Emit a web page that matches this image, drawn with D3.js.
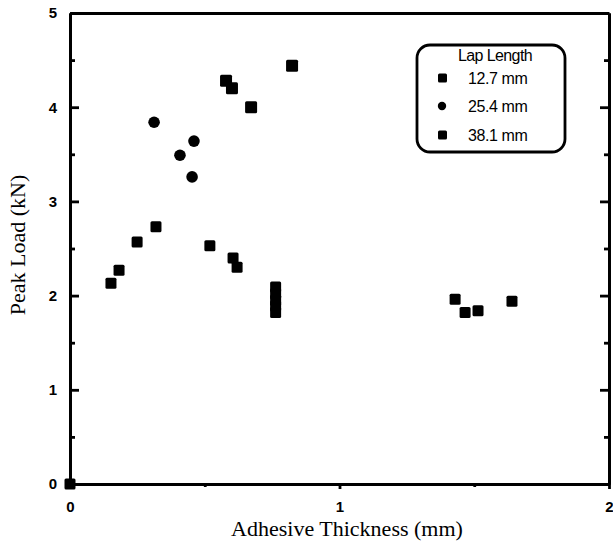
<!DOCTYPE html>
<html lang="en">
<head>
<meta charset="UTF-8">
<title>Peak Load vs Adhesive Thickness</title>
<script src="https://d3js.org/d3.v7.min.js"></script>
<style>
body { margin: 0; background: #fff; }
</style>
</head>
<body>
<svg width="613" height="546"></svg>
<script>
// data
var seriesNames = ["12.7 mm", "25.4 mm", "38.1 mm"]
var lap127x = [0, 0.152, 0.182, 0.249, 0.319, 0.519, 0.605, 0.62, 0.763, 0.763, 0.763, 0.763, 0.763, 1.429, 1.466, 1.514, 1.64]
var lap127y = [0, 2.13, 2.27, 2.57, 2.73, 2.53, 2.40, 2.30, 2.09, 2.02, 1.95, 1.89, 1.82, 1.96, 1.82, 1.84, 1.94]
var lap254x = [0.312, 0.46, 0.408, 0.453]
var lap254y = [3.84, 3.64, 3.49, 3.26]
var lap381x = [0.579, 0.601, 0.672, 0.824]
var lap381y = [4.28, 4.20, 4.00, 4.44]
var xTicks = [0, 1, 2]
var yTicks = [0, 1, 2, 3, 4, 5]

var svg = d3.select("svg")
var mLeft = 70, mRight = 609, mTop = 13, mBottom = 484
var sans = "'Liberation Sans', Arial, sans-serif"
var serif = "'Liberation Serif', 'Times New Roman', serif"

var x = d3.scaleLinear().domain([0, 2]).range([mLeft, mRight])
var y = d3.scaleLinear().domain([0, 5]).range([mBottom, mTop])

function styleAxis(g) {
  g.selectAll("path, line").attr("stroke", "#000").attr("stroke-width", 2.8)
  g.selectAll("text")
    .style("font-family", sans).style("font-weight", "bold")
    .style("font-size", "15px").attr("fill", "#000")
}

// bottom axis, small ticks pointing down
svg.append("g").attr("transform", "translate(0," + mBottom + ")")
  .call(d3.axisBottom(x).tickValues(xTicks).tickFormat(d3.format("d")).tickSizeInner(5).tickSizeOuter(0).tickPadding(12))
  .call(styleAxis)
svg.append("g").attr("transform", "translate(0," + mBottom + ")")
  .call(d3.axisBottom(x).tickValues([0.5, 1.5]).tickFormat("").tickSizeInner(3).tickSizeOuter(0))
  .call(styleAxis)

// left axis, ticks pointing in
svg.append("g").attr("transform", "translate(" + mLeft + ",0)")
  .call(d3.axisLeft(y).tickValues(yTicks).tickFormat(d3.format("d")).tickSizeInner(-9).tickSizeOuter(0).tickPadding(13))
  .call(styleAxis)
svg.append("g").attr("transform", "translate(" + mLeft + ",0)")
  .call(d3.axisLeft(y).tickValues([0.5, 1.5, 2.5, 3.5, 4.5]).tickFormat("").tickSizeInner(-5).tickSizeOuter(0))
  .call(styleAxis)

// right axis, ticks pointing in, no labels
svg.append("g").attr("transform", "translate(" + mRight + ",0)")
  .call(d3.axisRight(y).tickValues(yTicks).tickFormat("").tickSizeInner(-9).tickSizeOuter(0))
  .call(styleAxis)
svg.append("g").attr("transform", "translate(" + mRight + ",0)")
  .call(d3.axisRight(y).tickValues([0.5, 1.5, 2.5, 3.5, 4.5]).tickFormat("").tickSizeInner(-5).tickSizeOuter(0))
  .call(styleAxis)

// top frame line
svg.append("g").attr("transform", "translate(0," + mTop + ")")
  .call(d3.axisTop(x).tickValues([]).tickSizeOuter(0))
  .call(styleAxis)

svg.selectAll(".domain").attr("stroke-width", 3)

// axis titles
svg.append("text")
  .attr("x", 347).attr("y", 536)
  .attr("text-anchor", "middle")
  .style("font-family", serif).style("font-size", "22px")
  .text("Adhesive Thickness (mm)")
svg.append("text")
  .attr("transform", "translate(25,245) rotate(-90)")
  .attr("text-anchor", "middle")
  .style("font-family", serif).style("font-size", "22px")
  .text("Peak Load (kN)")

// markers
function squares(xs, ys, size) {
  svg.append("g").selectAll("rect")
    .data(d3.range(xs.length))
    .enter().append("rect")
    .attr("x", function(i) { return x(xs[i]) - size / 2 })
    .attr("y", function(i) { return y(ys[i]) - size / 2 })
    .attr("width", size).attr("height", size)
    .attr("rx", 1.5)
    .attr("fill", "#000")
}
function circles(xs, ys, r) {
  svg.append("g").selectAll("circle")
    .data(d3.range(xs.length))
    .enter().append("circle")
    .attr("cx", function(i) { return x(xs[i]) })
    .attr("cy", function(i) { return y(ys[i]) })
    .attr("r", r)
    .attr("fill", "#000")
}
squares(lap127x, lap127y, 11)
circles(lap254x, lap254y, 5.8)
squares(lap381x, lap381y, 12)

// legend
var lg = svg.append("g")
lg.append("rect")
  .attr("x", 417).attr("y", 45).attr("width", 148).attr("height", 107)
  .attr("rx", 13).attr("ry", 13)
  .attr("fill", "#fff").attr("stroke", "#000").attr("stroke-width", 2.8)
lg.append("text").attr("x", 495).attr("y", 61).attr("text-anchor", "middle")
  .style("font-family", sans).style("font-size", "16px")
  .attr("letter-spacing", -0.6).text("Lap Length")
var rows = [78, 106, 135]
rows.forEach(function(ry, i) {
  if (i == 1) {
    lg.append("circle").attr("cx", 442).attr("cy", ry).attr("r", 4.2).attr("fill", "#000")
  } else {
    lg.append("rect").attr("x", 438).attr("y", ry - 4.5).attr("width", 9).attr("height", 9)
      .attr("rx", 1.5).attr("fill", "#000")
  }
  lg.append("text").attr("x", 468).attr("y", ry + 6)
    .style("font-family", sans).style("font-size", "16px")
    .attr("letter-spacing", -0.4).text(seriesNames[i])
})
</script>
</body>
</html>
